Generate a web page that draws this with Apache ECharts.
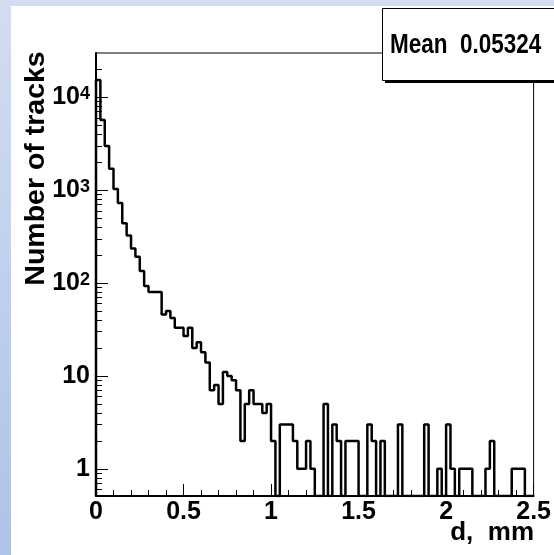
<!DOCTYPE html>
<html>
<head>
<meta charset="utf-8">
<script src="https://cdn.jsdelivr.net/npm/echarts@6/dist/echarts.min.js"></script>
<style>
  html, body { margin: 0; padding: 0; }
  body {
    width: 554px; height: 555px; position: relative; overflow: hidden;
    background: linear-gradient(#d3ddf1, #aec3e8);
  }
  #panel { position: absolute; left: 11px; top: 6px; width: 543px; height: 549px; background: #fff; }
  #chart { position: absolute; left: 0; top: 0; width: 554px; height: 555px; }
</style>
</head>
<body>
<div id="panel"></div>
<div id="chart"></div>
<script>
// histogram: 100 bins of 0.025 mm from 0 to 2.5
var binWidth = 0.025;
var counts = [
  15400, 5700, 3000, 1700, 1030, 730, 440, 325, 236, 192,
  135, 93, 80, 80, 80, 46, 50, 42, 33, 33,
  27, 33, 20, 23, 18, 14, 7, 8, 5, 11,
  10, 9, 7, 2, 5, 7, 5, 5, 4, 5,
  2, 0, 3, 3, 3, 2, 1, 1, 2, 1,
  0, 0, 5, 0, 3, 2, 0, 2, 2, 2,
  0, 0, 3, 2, 0, 2, 0, 0, 0, 3,
  0, 0, 0, 0, 0, 3, 0, 0, 1, 0,
  3, 1, 0, 1, 1, 1, 0, 0, 0, 1,
  2, 0, 0, 0, 0, 1, 1, 1, 0, 0
];
var meanLabel = "Mean  0.05324";
var xTitle = "d,  mm";
var yTitle = "Number of tracks";

var xMin = 0, xMax = 2.5, xStep = 0.5;
var yMin = 0.51, yMax = 30000;
var yMajor = [1, 10, 100, 1000, 10000];
var yMinor = [0.6, 0.7, 0.8, 0.9,
  2, 3, 4, 5, 6, 7, 8, 9,
  20, 30, 40, 50, 60, 70, 80, 90,
  200, 300, 400, 500, 600, 700, 800, 900,
  2000, 3000, 4000, 5000, 6000, 7000, 8000, 9000,
  20000];

var FONT = '"Liberation Sans", Arial, sans-serif';

// step outline, empty bins drawn on the bottom of the frame (log axis)
var steps = [[0, yMin]];
for (var i = 0; i < counts.length; i++) {
  steps.push([i * binWidth, counts[i] > 0 ? counts[i] : yMin]);
}
steps.push([counts.length * binWidth, counts[counts.length - 1] > 0 ? counts[counts.length - 1] : yMin]);

var chart = echarts.init(document.getElementById("chart"));

chart.setOption({
  animation: false,
  backgroundColor: "transparent",
  grid: {
    left: 96, right: 20, top: 53, bottom: 59,
    show: true, borderColor: "#000", borderWidth: 1
  },
  xAxis: {
    type: "value",
    min: xMin, max: xMax, interval: xStep,
    axisLine: { lineStyle: { color: "#000", width: 2 } },
    axisTick: { inside: true, length: 12, lineStyle: { color: "#000", width: 1 } },
    minorTick: { show: true, splitNumber: 5, length: 6, lineStyle: { color: "#000", width: 1 } },
    splitLine: { show: false },
    axisLabel: {
      color: "#000", fontSize: 25, fontWeight: "bold", fontFamily: FONT, margin: 4,
      showMinLabel: true, showMaxLabel: true,
      formatter: function (v) { return String(v); }
    }
  },
  yAxis: [
    {
      type: "log", position: "left",
      min: yMin, max: yMax,
      axisLine: { show: true, lineStyle: { color: "#000", width: 2 } },
      axisTick: { inside: true, length: 12, customValues: yMajor, lineStyle: { color: "#000", width: 1 } },
      splitLine: { show: false },
      axisLabel: {
        customValues: yMajor, margin: 6,
        formatter: function (v) {
          var e = Math.round(Math.log10(v));
          if (e < 2) return "{b|" + Math.round(v) + "}";
          return "{b|10}{s|" + e + "}";
        },
        rich: {
          b: { fontSize: 25, fontWeight: "bold", fontFamily: FONT, color: "#000" },
          s: { fontSize: 18, fontWeight: "bold", fontFamily: FONT, color: "#000", verticalAlign: "top" }
        }
      }
    },
    {
      // minor log ticks
      type: "log", position: "left",
      min: yMin, max: yMax,
      axisLine: { show: false },
      axisTick: { inside: true, length: 6, customValues: yMinor, lineStyle: { color: "#000", width: 1 } },
      axisLabel: { show: false },
      splitLine: { show: false }
    }
  ],
  series: [
    {
      type: "line",
      step: "end",
      data: steps,
      symbol: "none",
      clip: true,
      lineStyle: { color: "#000", width: 2.5 }
    }
  ],
  graphic: [
    {
      type: "text", x: 36, y: 168.5, rotation: Math.PI / 2, z: 100,
      style: { text: yTitle, font: "bold 28.5px " + FONT, fill: "#000", align: "center", verticalAlign: "middle" }
    },
    {
      type: "text", x: 534, y: 533, z: 100,
      style: { text: xTitle, font: "bold 26px " + FONT, fill: "#000", align: "right", verticalAlign: "middle" }
    },
    {
      type: "rect", z: 100,
      shape: { x: 385, y: 11, width: 200, height: 72 },
      style: { fill: "#000" }
    },
    {
      type: "rect", z: 101,
      shape: { x: 382.5, y: 8.5, width: 200, height: 72 },
      style: { fill: "#fff", stroke: "#000", lineWidth: 1 }
    },
    {
      // the stat box font is narrower than the axis font
      type: "text", x: 390, y: 45, scaleY: 1.25, z: 102,
      style: { text: meanLabel, font: "bold 22.5px " + FONT, fill: "#000", align: "left", verticalAlign: "middle" }
    }
  ]
});
</script>
</body>
</html>
